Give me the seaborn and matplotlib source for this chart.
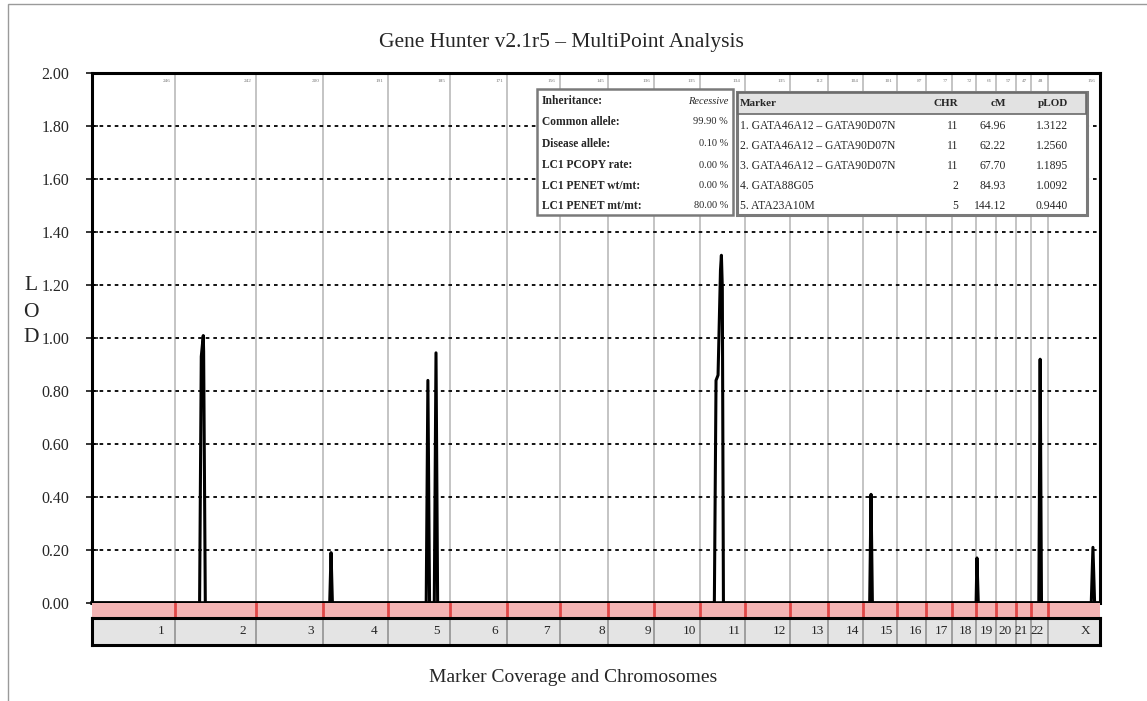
import numpy as np
import pandas as pd
import matplotlib
matplotlib.use("Agg")
import matplotlib.pyplot as plt
from matplotlib.patches import Rectangle
import seaborn as sns

# ---------------- data ----------------
chromosomes = ['1', '2', '3', '4', '5', '6', '7', '8', '9', '10', '11', '12',
               '13', '14', '15', '16', '17', '18', '19', '20', '21', '22', 'X']
chrom_lengths = [246, 242, 200, 191, 185, 171, 156, 145, 136, 135, 134, 135,
                 112, 104, 101, 87, 77, 72, 61, 57, 47, 48, 156]

scan_chrom = ['1',
              '2', '2', '2', '2', '2',
              '4', '4', '4',
              '5', '5', '5', '5', '5', '5',
              '11', '11', '11', '11', '11', '11', '11',
              '15', '15', '15',
              '19', '19', '19',
              '22', '22', '22',
              'X', 'X', 'X', 'X']
scan_cM = [0,
           74, 79, 84.93, 86, 91,
           19, 23, 27,
           115, 120, 125, 139, 144.12, 149,
           44, 49, 55, 62.22, 64.96, 67.70, 71,
           21, 25, 29,
           0.5, 3, 7,
           22, 26, 30,
           130, 135, 140, 156]
scan_lod = [0,
            0, 0.93, 1.0092, 0.95, 0,
            0, 0.19, 0,
            0, 0.84, 0, 0, 0.944, 0,
            0, 0.84, 0.86, 1.2560, 1.3122, 1.1895, 0,
            0, 0.41, 0,
            0, 0.17, 0,
            0, 0.92, 0,
            0, 0.21, 0, 0]

y_ticks = [0.0, 0.2, 0.4, 0.6, 0.8, 1.0, 1.2, 1.4, 1.6, 1.8, 2.0]

param_labels = ['Inheritance:', 'Common allele:', 'Disease allele:',
                'LC1 PCOPY rate:', 'LC1 PENET wt/mt:', 'LC1 PENET mt/mt:']
param_values = ['Recessive', '99.90 %', '0.10 %', '0.00 %', '0.00 %', '80.00 %']

top_markers = ['1. GATA46A12 \u2013 GATA90D07N', '2. GATA46A12 \u2013 GATA90D07N',
               '3. GATA46A12 \u2013 GATA90D07N', '4. GATA88G05', '5. ATA23A10M']
top_chr = ['11', '11', '11', '2', '5']
top_cM = ['64.96', '62.22', '67.70', '84.93', '144.12']
top_plod = ['1.3122', '1.2560', '1.1895', '1.0092', '0.9440']

# ---------------- derived ----------------
offsets = dict(zip(chromosomes, np.concatenate([[0], np.cumsum(chrom_lengths)[:-1]])))
ends = np.cumsum(chrom_lengths)
total = ends[-1]

df = pd.DataFrame({'chrom': scan_chrom, 'cM': scan_cM, 'lod': scan_lod})
df['pos'] = [offsets[c] + m for c, m in zip(df['chrom'], df['cM'])]

# ---------------- style ----------------
sns.set_style("white")
plt.rcParams['font.family'] = ['Liberation Serif', 'DejaVu Serif']

W, H = 1147, 701
fig = plt.figure(figsize=(W / 100, H / 100), dpi=100)

L, R, T, B = 92, 1100, 73, 603
ax = fig.add_axes([L / W, 1 - B / H, (R - L) / W, (B - T) / H])
ax_strip = fig.add_axes([L / W, 1 - 618 / H, (R - L) / W, 15 / H])
ax_chr = fig.add_axes([L / W, 1 - 645 / H, (R - L) / W, 27 / H])

def fx(px):
    return (px - L) / (R - L)

def fy(py):
    return 1 - (py - T) / (B - T)

# main plot
for e in ends[:-1]:
    ax.axvline(e, color='#b4b4b4', lw=1.1, zorder=1)
for yv in y_ticks[1:-1]:
    ax.axhline(yv, color='black', lw=1.3, ls=(0, (2, 2.2)), zorder=1)

sns.lineplot(data=df, x='pos', y='lod', ax=ax, color='black', lw=2.2,
             sort=False, estimator=None, zorder=3)

ax.set_xlim(0, total)
ax.set_ylim(0, 2.0)
ax.set_yticks(y_ticks)
ax.set_yticklabels([f"{v:.2f}" for v in y_ticks], fontsize=11.5)
ax.set_xticks([])
ax.set_xlabel('')
ax.set_ylabel('')
ax.tick_params(axis='y', direction='inout', length=9, width=1.3, pad=12, left=True)
for s in ax.spines.values():
    s.set_color('black')
    s.set_linewidth(2.2)
ax.spines['bottom'].set_linewidth(2.6)

# chromosome length labels along top
for e, ln in zip(ends, chrom_lengths):
    ax.annotate(str(ln), xy=(e, 2.0), xytext=(-3, -4), textcoords='offset points',
                ha='right', va='top', fontsize=3.8, color='#777777')

# marker coverage strip
ax_strip.set_xlim(0, total)
ax_strip.set_ylim(0, 1)
ax_strip.add_patch(Rectangle((0, 0), total, 1, facecolor='#f4b4b4', edgecolor='none'))
for e in ends[:-1]:
    ax_strip.axvline(e, color='#e04848', lw=2)
ax_strip.set_xticks([])
ax_strip.set_yticks([])
for s in ax_strip.spines.values():
    s.set_visible(False)

# chromosome label row
ax_chr.set_xlim(0, total)
ax_chr.set_ylim(0, 1)
ax_chr.add_patch(Rectangle((0, 0), total, 1, facecolor='#e4e4e4', edgecolor='none'))
for e in ends[:-1]:
    ax_chr.axvline(e, color='#8a8a8a', lw=1.1)
for c, e, ln in zip(chromosomes, ends, chrom_lengths):
    off = -7 if ln > 150 else -2.5
    ax_chr.annotate(c, xy=(e, 0.5), xytext=(off, 0), textcoords='offset points',
                    ha='right', va='center', fontsize=9.5)
ax_chr.set_xticks([])
ax_chr.set_yticks([])
for s in ax_chr.spines.values():
    s.set_color('black')
    s.set_linewidth(2.2)

# parameter table
ax.add_patch(Rectangle((fx(537), fy(215)), fx(733) - fx(537), fy(89) - fy(215),
                       transform=ax.transAxes, facecolor='white', edgecolor='#7a7a7a',
                       lw=1.8, zorder=5))
row_y = [101, 122, 144, 165, 186, 206]
for lab, val, ry in zip(param_labels, param_values, row_y):
    ax.text(fx(542), fy(ry), lab, transform=ax.transAxes, fontsize=8.3, fontweight='bold',
            ha='left', va='center', zorder=6)
    ax.text(fx(728), fy(ry), val, transform=ax.transAxes, fontsize=7.5,
            fontstyle='italic' if lab == 'Inheritance:' else 'normal',
            ha='right', va='center', zorder=6)

# top marker table
ax.add_patch(Rectangle((fx(737), fy(215)), fx(1087) - fx(737), fy(92) - fy(215),
                       transform=ax.transAxes, facecolor='white', edgecolor='#7a7a7a',
                       lw=2.2, zorder=5))
ax.add_patch(Rectangle((fx(738), fy(114)), fx(1086) - fx(738), fy(93) - fy(114),
                       transform=ax.transAxes, facecolor='#e2e2e2', edgecolor='#6a6a6a',
                       lw=1.2, zorder=5))
hdr_y = 104
col_x = [740, 958, 1006, 1068]
for txt, cx, ha in zip(['Marker', 'CHR', 'cM', 'pLOD'], col_x,
                       ['left', 'right', 'right', 'right']):
    ax.text(fx(cx), fy(hdr_y), txt, transform=ax.transAxes, fontsize=8,
            fontweight='bold', ha=ha, va='center', zorder=6)
mrow_y = [126, 146, 166, 186, 206]
for m, c, cm, p, ry in zip(top_markers, top_chr, top_cM, top_plod, mrow_y):
    for txt, cx, ha in zip([m, c, cm, p], col_x, ['left', 'right', 'right', 'right']):
        ax.text(fx(cx), fy(ry), txt, transform=ax.transAxes, fontsize=8.4,
                ha=ha, va='center', zorder=6)

# titles and labels
fig.text(561 / W, 1 - 43 / H, 'Gene Hunter v2.1r5 \u2013 MultiPoint Analysis',
         ha='center', va='center', fontsize=15.5)
fig.text(573 / W, 1 - 678 / H, 'Marker Coverage and Chromosomes',
         ha='center', va='center', fontsize=14)
for ch, py in zip('LOD', [285, 312, 338]):
    fig.text(31 / W, 1 - py / H, ch, ha='center', va='center', fontsize=15.5)

# outer frame
fig.add_artist(Rectangle((8 / W, -0.01), 1.02, 1 - 4 / H + 0.01, transform=fig.transFigure,
                         facecolor='none', edgecolor='#9a9a9a', lw=1.0))

fig.savefig('out.png', dpi=100)
